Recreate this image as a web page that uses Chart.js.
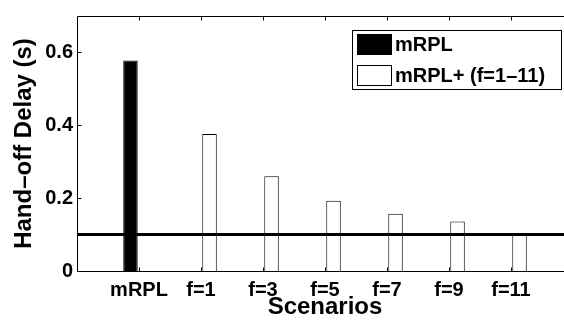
<!DOCTYPE html>
<html>
<head>
<meta charset="utf-8">
<script src="https://cdn.jsdelivr.net/npm/chart.js@4/dist/chart.umd.min.js"></script>
<style>
  html, body { margin: 0; padding: 0; background: #fff; overflow: hidden; width: 564px; height: 327px; }
  #wrap { position: absolute; left: 0; top: 0; width: 580px; height: 327px; }
  canvas { display: block; }
</style>
</head>
<body>
<div id="wrap"><canvas id="c" width="580" height="327"></canvas></div>
<script>
// ---- data ----
const categories = ['mRPL', 'f=1', 'f=3', 'f=5', 'f=7', 'f=9', 'f=11'];
const mrplValues = [0.578, null, null, null, null, null, null];
const mrplPlusValues = [null, 0.376, 0.260, 0.193, 0.157, 0.136, 0.100];
const thresholdDelay = 0.1;
const yTicks = [0, 0.2, 0.4, 0.6];
const yMax = 0.7;
const legendLabels = ['mRPL', 'mRPL+ (f=1\u201311)'];

// pad one empty slot on each side of the categories (axis range 0..8)
const labels = [''].concat(categories, ['']);
const pad = arr => [null].concat(arr, [null]);

const FONT = '"Liberation Sans", Arial, Helvetica, sans-serif';

const framePlugin = {
  id: 'frame',
  afterDatasetsDraw(chart) {
    const { ctx, chartArea: a, scales } = chart;
    ctx.save();
    ctx.strokeStyle = '#000';
    ctx.lineWidth = 1;
    const L = Math.round(a.left) + 0.5, R = Math.round(a.right) + 0.5;
    const T = Math.round(a.top) + 0.5, B = Math.round(a.bottom) + 0.5;
    ctx.beginPath();
    ctx.moveTo(L, T); ctx.lineTo(R, T); ctx.lineTo(R, B); ctx.lineTo(L, B); ctx.closePath();
    ctx.stroke();
    // inward x ticks (bottom and top)
    const tl = 4;
    ctx.beginPath();
    for (let i = 1; i <= categories.length; i++) {
      const x = Math.round(scales.x.getPixelForValue(i)) + 0.5;
      ctx.moveTo(x, B); ctx.lineTo(x, B - tl);
      ctx.moveTo(x, T); ctx.lineTo(x, T + tl);
    }
    // inward y ticks (left and right)
    yTicks.forEach(v => {
      const y = Math.round(scales.y.getPixelForValue(v)) + 0.5;
      ctx.moveTo(L, y); ctx.lineTo(L + tl, y);
      ctx.moveTo(R, y); ctx.lineTo(R - tl, y);
    });
    ctx.stroke();
    ctx.restore();
  },
  afterDraw(chart) {
    // legend box inside the plot, top-right
    const { ctx, chartArea: a } = chart;
    const ds = chart.data.datasets.filter(d => d.type !== 'line');
    ctx.save();
    ctx.font = 'bold 20px ' + FONT;
    const boxR = Math.round(a.right) - 12;
    const boxT = Math.round(a.top) + 14;
    const boxW = 209, boxH = 59;
    const boxL = boxR - boxW;
    ctx.fillStyle = '#fff';
    ctx.fillRect(boxL, boxT, boxW, boxH);
    ctx.strokeStyle = '#000';
    ctx.lineWidth = 1;
    ctx.strokeRect(boxL + 0.5, boxT + 0.5, boxW, boxH);
    ds.forEach((d, i) => {
      const sy = boxT + 4 + i * 31;
      ctx.fillStyle = d.backgroundColor;
      ctx.fillRect(boxL + 5, sy, 35, 20);
      ctx.strokeStyle = '#000';
      ctx.strokeRect(boxL + 5.5, sy + 0.5, 34, 20);
      ctx.fillStyle = '#000';
      ctx.textBaseline = 'middle';
      ctx.textAlign = 'left';
      ctx.fillText(legendLabels[i], boxL + 43, sy + 11);
    });
    ctx.restore();
  }
};

new Chart(document.getElementById('c'), {
  data: {
    labels: labels,
    datasets: [
      {
        type: 'line',
        label: 'threshold',
        data: labels.map(() => thresholdDelay),
        borderColor: '#000',
        borderWidth: 3,
        pointRadius: 0,
        order: 0
      },
      {
        type: 'bar',
        label: legendLabels[0],
        data: pad(mrplValues),
        backgroundColor: '#000',
        borderColor: '#000',
        borderWidth: 1,
        categoryPercentage: 0.55,
        barPercentage: 0.85,
        order: 1
      },
      {
        type: 'bar',
        label: legendLabels[1],
        data: pad(mrplPlusValues),
        backgroundColor: '#fff',
        borderColor: '#000',
        borderWidth: 1,
        categoryPercentage: 0.55,
        barPercentage: 0.85,
        order: 1
      }
    ]
  },
  options: {
    responsive: false,
    animation: false,
    layout: { padding: { top: 5, right: 7, left: 0, bottom: 0 } },
    plugins: { legend: { display: false }, tooltip: { enabled: false } },
    scales: {
      x: {
        type: 'category',
        offset: false,
        grid: { display: false, drawTicks: false },
        border: { display: false },
        ticks: {
          color: '#000',
          padding: 7,
          autoSkip: false,
          maxRotation: 0,
          font: { family: FONT, size: 20, weight: 'bold' }
        },
        title: {
          display: true,
          text: 'Scenarios',
          color: '#000',
          padding: { top: 0, bottom: 8 },
          font: { family: FONT, size: 24, weight: 'bold', lineHeight: 1 }
        },
        afterFit(scale) { scale.height = 56; }
      },
      y: {
        min: 0,
        max: yMax,
        grid: { display: false, drawTicks: false },
        border: { display: false },
        afterBuildTicks(scale) { scale.ticks = yTicks.map(v => ({ value: v })); },
        ticks: {
          color: '#000',
          padding: 4,
          font: { family: FONT, size: 20, weight: 'bold' },
          callback: v => String(v)
        },
        title: {
          display: true,
          text: 'Hand\u2013off Delay (s)',
          color: '#000',
          padding: { top: 12, bottom: 0 },
          font: { family: FONT, size: 24, weight: 'bold', lineHeight: 1 }
        },
        afterFit(scale) { scale.width = 77; }
      }
    }
  },
  plugins: [framePlugin]
});
</script>
</body>
</html>
